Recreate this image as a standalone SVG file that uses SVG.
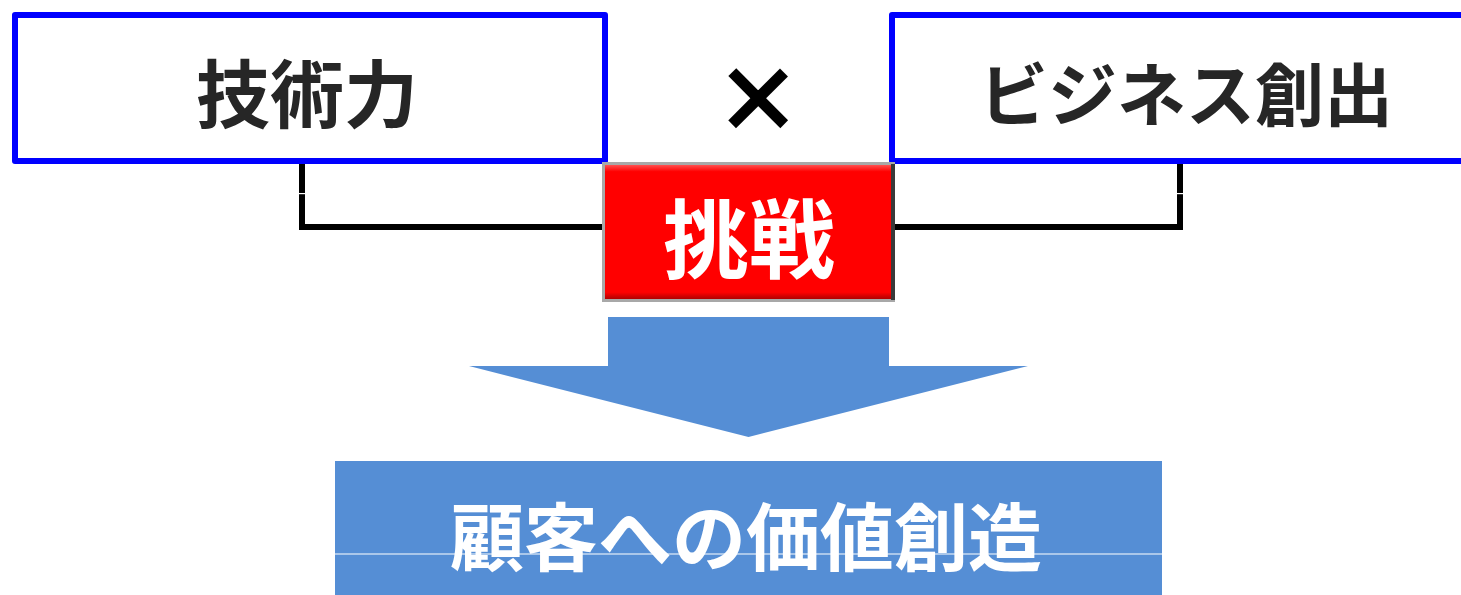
<svg xmlns="http://www.w3.org/2000/svg" width="1461" height="595" viewBox="0 0 1461 595">
<style>
.box{fill:#fff;stroke:#0000ff;stroke-width:6;stroke-linejoin:round}
.t{font-family:"Noto Sans CJK JP","Noto Sans CJK SC",sans-serif;font-weight:700;text-anchor:middle}
.dark{fill:#262626}
.w{fill:#fff}
.ln{stroke:#000;stroke-width:6;fill:none}
.blue{fill:#558ed5}
</style>
<defs>
<linearGradient id="rv" x1="0" y1="0" x2="0" y2="1">
<stop offset="0" stop-color="#ff5050"/>
<stop offset="0.05" stop-color="#ff0000"/>
<stop offset="0.95" stop-color="#ff0000"/>
<stop offset="1" stop-color="#b00000"/>
</linearGradient>
</defs>
<g id="connectors">
<path class="ln" d="M302 163 V227 H604"/>
<path class="ln" d="M1180 164 V227 H892"/>
<rect x="298" y="193" width="8" height="1.2" fill="#fff"/>
<rect x="1176" y="193" width="8" height="1.2" fill="#fff"/>
</g>
<g id="node-tech">
<rect class="box" x="15" y="15" width="590" height="146"/>
<text class="t dark" x="307" y="122" font-size="74">技術力</text>
</g>
<g id="node-times">
<text x="758" y="141" font-family="Liberation Sans, sans-serif" font-weight="400" font-size="128" text-anchor="middle" fill="#000" stroke="#000" stroke-width="2">×</text>
</g>
<g id="node-biz">
<rect class="box" x="892" y="15" width="600" height="146"/>
<text class="t dark" x="1186" y="121" font-size="69">ビジネス創出</text>
</g>
<g id="node-challenge">
<rect x="602" y="162" width="293" height="140" fill="#a8a8a8"/>
<rect x="891" y="164" width="4" height="136" fill="#3a3a3a"/>
<rect x="605" y="165" width="286" height="134" fill="url(#rv)"/>
<text class="t w" x="749" y="272" font-size="86">挑戦</text>
</g>
<g id="arrow">
<polygon class="blue" points="608,317 889,317 889,366 1028,366 748.5,437 469,366 608,366"/>
</g>
<g id="node-value">
<rect class="blue" x="335" y="461" width="827" height="140"/>
<text class="t w" x="746" y="565" font-size="74">顧客への価値創造</text>
<rect x="335" y="553.5" width="827" height="1" fill="#fff"/>
</g>
</svg>
